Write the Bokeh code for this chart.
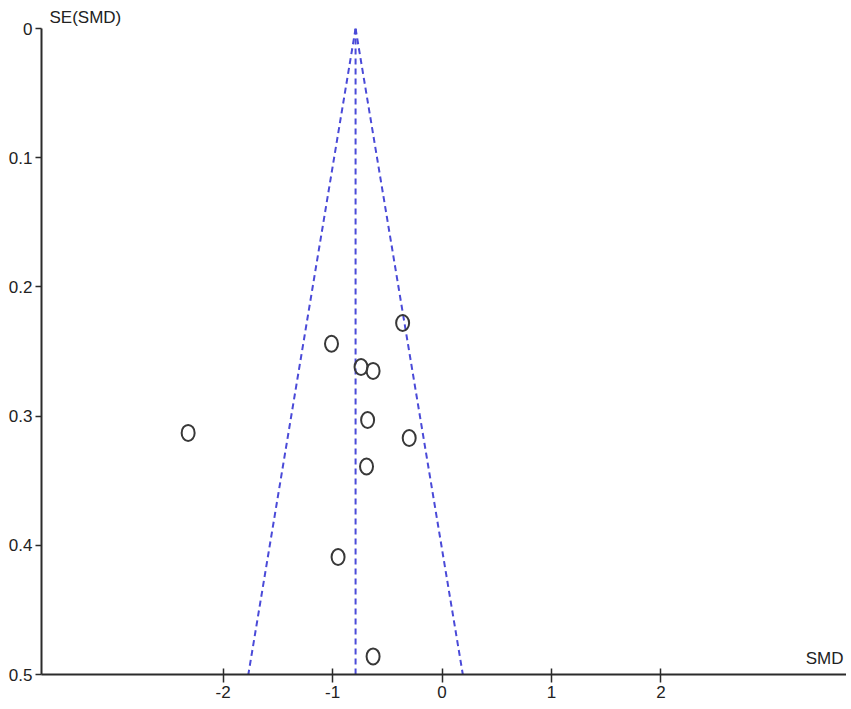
from bokeh.plotting import figure
from bokeh.models import Range1d, FixedTicker, Label, ColumnDataSource
from bokeh.embed import file_html
from bokeh.resources import INLINE

# Study data: standardized mean difference and its standard error
smd = [-0.36, -1.01, -0.74, -0.63, -0.68, -0.30, -2.32, -0.69, -0.95, -0.63]
se_smd = [0.228, 0.244, 0.262, 0.265, 0.303, 0.317, 0.313, 0.339, 0.409, 0.486]

pooled = -0.79
z = 1.96
se_max = 0.5

x_ticks = [-2, -1, 0, 1, 2]
x_tick_labels = ["-2", "-1", "0", "1", "2"]
y_ticks = [0, 0.1, 0.2, 0.3, 0.4, 0.5]
y_tick_labels = ["0", "0.1", "0.2", "0.3", "0.4", "0.5"]

FONT = "Liberation Sans"
FSIZE = "17px"
AX = "#2b2b2b"

p = figure(width=846, height=700, output_backend="svg", toolbar_location=None,
           x_range=Range1d(-3.66, 3.696), y_range=Range1d(0.5, 0),
           min_border_left=41, min_border_right=0, min_border_top=28, min_border_bottom=26,
           title="SE(SMD)")
p.outline_line_color = None
p.grid.visible = False
p.background_fill_color = "white"

p.title.align = "left"
p.title.offset = 8
p.title.text_font = FONT
p.title.text_font_size = FSIZE
p.title.text_font_style = "normal"
p.title.text_color = "#222222"
p.title.standoff = 3

for ax in (p.xaxis[0], p.yaxis[0]):
    ax.axis_line_color = AX
    ax.axis_line_width = 2
    ax.major_tick_line_color = AX
    ax.major_tick_line_width = 1.5
    ax.minor_tick_line_color = None
    ax.major_label_text_font = FONT
    ax.major_label_text_font_size = FSIZE
    ax.major_label_text_color = "#222222"

p.xaxis.ticker = FixedTicker(ticks=x_ticks)
p.xaxis.major_label_overrides = {t: l for t, l in zip(x_ticks, x_tick_labels)}
p.xaxis.major_tick_in = 6
p.xaxis.major_tick_out = 8
p.xaxis.major_label_standoff = 3

p.yaxis.ticker = FixedTicker(ticks=y_ticks)
p.yaxis.major_label_overrides = {t: l for t, l in zip(y_ticks, y_tick_labels)}
p.yaxis.major_tick_in = 0
p.yaxis.major_tick_out = 6
p.yaxis.major_label_standoff = 3

blue = "#4a4ad8"
# funnel (pseudo 95% confidence limits)
p.line([pooled, pooled - z * se_max], [0, se_max], line_color=blue, line_width=2, line_dash="6 4")
p.line([pooled, pooled + z * se_max], [0, se_max], line_color=blue, line_width=2, line_dash="6 4")
p.line([pooled, pooled], [0, se_max], line_color=blue, line_width=2, line_dash="6 4")

src = ColumnDataSource(dict(x=smd, y=se_smd))
p.ellipse("x", "y", source=src, width=13, height=16, width_units="screen",
          height_units="screen", fill_color=None, line_color="#383838", line_width=2)

p.add_layout(Label(x=3.696, y=0.5, x_offset=-3, y_offset=7, text="SMD",
                   text_font=FONT, text_font_size=FSIZE, text_color="#222222",
                   text_align="right", text_baseline="bottom"))

open("out.html", "w").write(file_html(p, INLINE))
